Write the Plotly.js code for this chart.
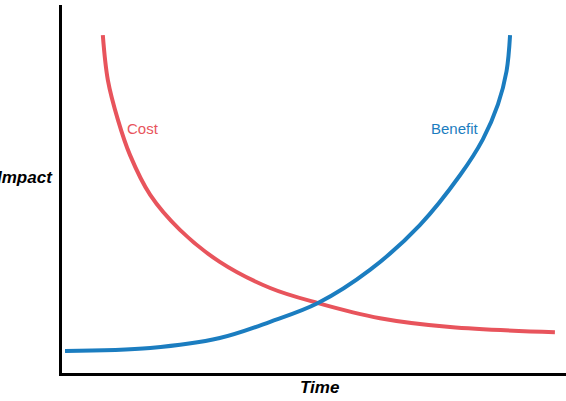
<!DOCTYPE html>
<html>
<head>
<meta charset="utf-8">
<script src="https://cdn.plot.ly/plotly-3.0.1.min.js"></script>
<style>body{margin:0}#chart{width:566px;height:401px}</style>
</head>
<body>
<div id="chart"></div>
<script>
// values (arbitrary units, 0-100)
var costX = [8.1, 9.1, 11.1, 13.5, 17.5, 23.4, 31.3, 41.3, 50.8, 63.1, 77.0, 97.8];
var costY = [91.8, 79.6, 68.8, 59.2, 48.4, 38.9, 30.2, 23.1, 19.0, 14.9, 12.5, 11.1];
var benefitX = [0.6, 17.5, 31.3, 41.3, 50.8, 61.1, 71.0, 79.0, 83.5, 86.5, 88.2, 88.9];
var benefitY = [6.0, 6.8, 9.5, 13.9, 19.0, 28.0, 40.2, 53.8, 63.5, 73.0, 82.0, 91.8];

var font = 'Liberation Sans Narrow, Liberation Sans, sans-serif';

var data = [
    {x: costX, y: costY, mode: 'lines', line: {color: '#e8545c', width: 4, shape: 'spline', smoothing: 1}, hoverinfo: 'none'},
    {x: benefitX, y: benefitY, mode: 'lines', line: {color: '#1b7dc0', width: 4, shape: 'spline', smoothing: 1}, hoverinfo: 'none'}
];

var layout = {
    width: 566, height: 401,
    margin: {l: 62, r: 0, t: 5, b: 28},
    showlegend: false,
    plot_bgcolor: '#fff', paper_bgcolor: '#fff',
    xaxis: {range: [0, 100], showgrid: false, zeroline: false, showticklabels: false, ticks: '',
        showline: true, linecolor: '#000', linewidth: 3},
    yaxis: {range: [0, 100], showgrid: false, zeroline: false, showticklabels: false, ticks: '',
        showline: true, linecolor: '#000', linewidth: 3},
    annotations: [
        {x: 16, y: 66.5, text: 'Cost', showarrow: false, font: {family: font, size: 15, color: '#e8545c'}},
        {x: 78, y: 66.5, text: 'Benefit', showarrow: false, font: {family: font, size: 15, color: '#1b7dc0'}},
        {xref: 'paper', yref: 'paper', x: -0.014, xanchor: 'right', y: 0.53, text: '<b><i>Impact</i></b>', showarrow: false,
            font: {family: font, size: 17, color: '#000'}},
        {xref: 'paper', yref: 'paper', x: 0.51, y: -0.04, yanchor: 'middle', text: '<b><i>Time</i></b>', showarrow: false,
            font: {family: font, size: 17, color: '#000'}}
    ]
};

Plotly.newPlot('chart', data, layout, {displayModeBar: false});
</script>
</body>
</html>
